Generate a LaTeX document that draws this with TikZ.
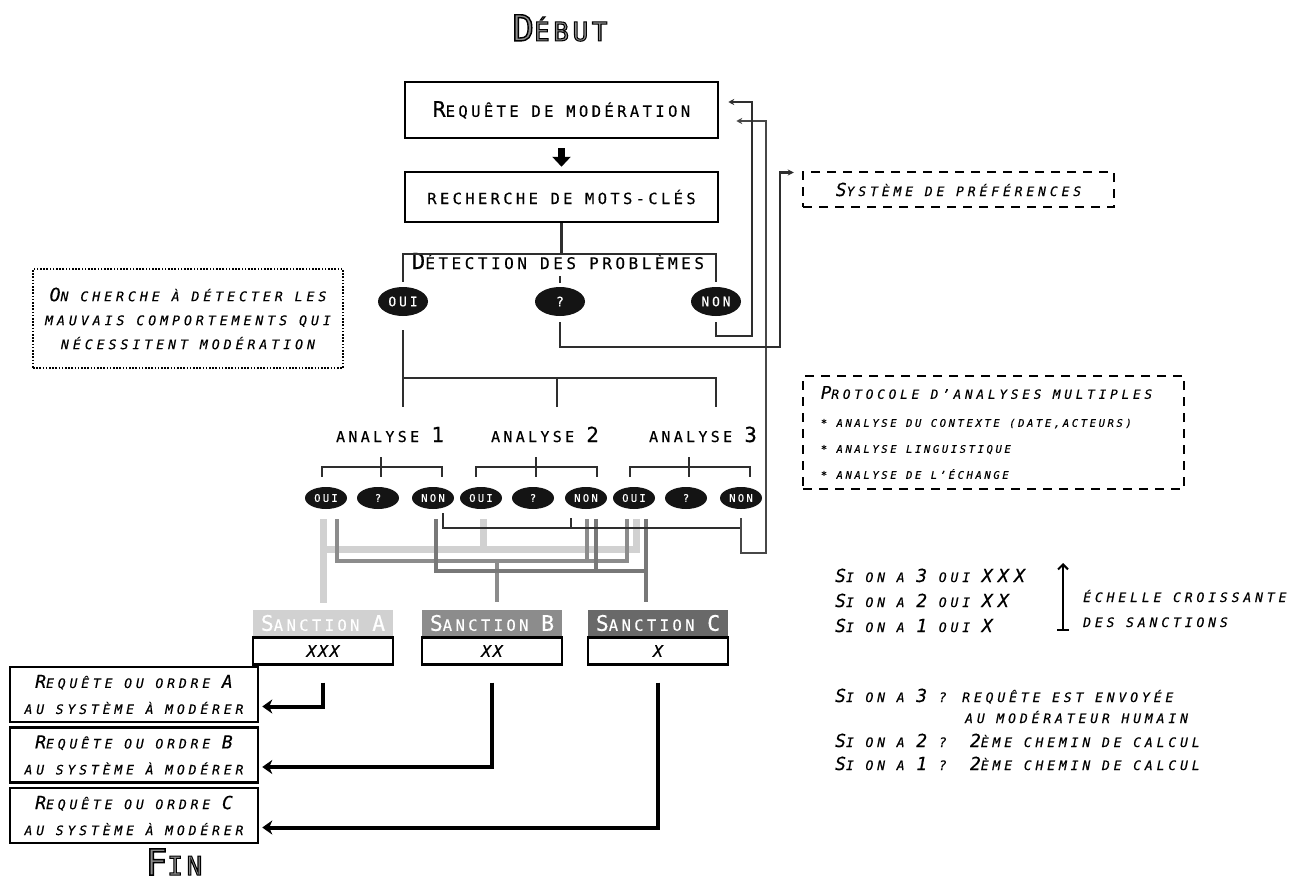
\documentclass[tikz,border=0pt]{standalone}
\usepackage{fontspec}
\setmainfont{DejaVu Sans Mono}[LetterSpace=22, FakeBold=0.4]
\newfontfamily\notef{DejaVu Sans Mono}[LetterSpace=30, FakeBold=0.4]
\newfontfamily\titref{DejaVu Sans Mono}[LetterSpace=14, FakeBold=4]
\usepackage{tikz}
\usetikzlibrary{arrows.meta, positioning, shapes.geometric}

\definecolor{gclair}{gray}{0.82}
\definecolor{gmoyen}{gray}{0.55}
\definecolor{gfonce}{gray}{0.41}
\definecolor{lienb}{gray}{0.55}
\definecolor{lienc}{gray}{0.47}

\newcommand\taille[1]{\fontsize{#1}{#1}\selectfont}
\newcommand\ini[1]{\scalebox{1.38}{#1}}
% polices des textes droits et penchés, espaces à la chasse d'un caractère
\newcommand\droit[1]{\taille{#1}\spaceskip=0.82em\relax}
\newcommand\penche[1]{\notef\itshape\taille{#1}\spaceskip=0.9em\relax}
% lettres creuses des titres : contour noir, intérieur gris
\newcommand\contournoir{\special{pdf:literal direct 0 G}}
\newcommand\creux[2]{\contournoir\ini{#1}\contournoir#2}

\begin{document}
\begin{tikzpicture}[x=1pt, y=-1pt,
    boite/.style={draw, line width=2.5pt, minimum width=313pt, inner sep=0pt},
    rep/.style={ellipse, fill=black!92, text=white, inner sep=0pt,
                minimum width=50pt, minimum height=29pt, font=\droit{13}},
    petit/.style={rep, minimum width=42pt, minimum height=22pt, font=\droit{10.5}},
    note/.style={font=\penche{13}, inner sep=0pt},
    tirets/.style={draw, line width=2.5pt, dash pattern=on 9pt off 7pt},
    titre/.style={font=\titref\taille{26}, text=black!45},
    sanc/.style={minimum width=140pt, minimum height=26pt, inner sep=0pt,
                 text=white, font=\droit{15.5}},
    niveau/.style={draw, line width=2.5pt, minimum width=140pt, minimum height=27pt,
                   inner sep=0pt, font=\penche{16}\addfontfeatures{LetterSpace=12}},
    ordre/.style={draw, line width=2.5pt, minimum width=248pt, minimum height=55pt,
                  inner sep=0pt, align=center,
                  font=\penche{13}\fontsize{13}{26}\selectfont},
    fil/.style={line width=2.5pt, black!82},
    fleche/.style={fil, -{Stealth[length=6pt,width=6pt]}},
    lienA/.style={line width=7pt, gclair},
    lienB/.style={line width=4pt, lienb},
    lienC/.style={line width=4pt, lienc},
    grosse/.style={line width=4pt, -{Stealth[length=10pt,width=14pt,inset=3pt]}}
]
\useasboundingbox (0,0) rectangle (1306,888);

\node[titre] (debut) at (560,28) {\creux{D}{ÉBUT}};

% requête et mots-clés
\node[boite, minimum height=56pt, font=\droit{15.5}] (req) at (561.5,110) {\ini{R}EQUÊTE DE MODÉRATION};
\node[boite, minimum height=50pt, font=\droit{15.4}] (mots) at (561.5,197) {RECHERCHE DE MOTS-CLÉS};
\draw[line width=7pt, -{Triangle[length=10pt,width=18pt]}, shorten <=9pt, shorten >=4pt] (req) -- (mots);

% détection
\node[font=\droit{16}, inner sep=0pt, anchor=base] (det) at (558,269) {\ini{D}ÉTECTION DES PROBLÈMES};
\node[rep] (oui) at (403,301.5) {OUI};
\node[rep] (inc) at (560,301.5) {?};
\node[rep] (non) at (716,301.5) {NON};
\draw[fil] (mots.south) -- ++(0,32);
\draw[fil] ([yshift=5pt]oui.north) -- ++(0,-28) -| ([yshift=5pt]non.north);
\draw[fil] ([yshift=4pt]inc.north) -- ++(0,-7);

\node[draw, line width=2.5pt, dash pattern=on 1.6pt off 1.6pt, minimum width=310pt,
      minimum height=99pt, align=center, note, font=\penche{13.2}\fontsize{13.2}{24}\selectfont]
      (but) at (188,318.5) {\ini{O}N CHERCHE À DÉTECTER LES\\MAUVAIS COMPORTEMENTS QUI\\NÉCESSITENT MODÉRATION};

\node[tirets, note, minimum width=311pt, minimum height=35pt] (pref) at (958.5,189.5) {\ini{S}YSTÈME DE PRÉFÉRENCES};

% vers les trois analyses
\coordinate (b1) at (403,407);
\coordinate (b2) at (557,407);
\coordinate (b3) at (716,407);
\draw[fil] ([yshift=-14pt]oui.south) -- (b1);
\draw[fil] (b1) ++(0,-29) -| (b3);
\draw[fil] (b2) -- ++(0,-29);

\node[font=\droit{15}, inner sep=0pt, anchor=base] (an1) at (390,442) {ANALYSE \ini{1}};
\node[font=\droit{15}, inner sep=0pt, anchor=base] (an2) at (545,442) {ANALYSE \ini{2}};
\node[font=\droit{15}, inner sep=0pt, anchor=base] (an3) at (703,442) {ANALYSE \ini{3}};

\node[petit] (o1) at (326,498) {OUI};
\node[petit] (q1) at (378,498) {?};
\node[petit] (n1) at (433,498) {NON};
\node[petit] (o2) at (481,498) {OUI};
\node[petit] (q2) at (533,498) {?};
\node[petit] (n2) at (586,498) {NON};
\node[petit] (o3) at (634,498) {OUI};
\node[petit] (q3) at (686,498) {?};
\node[petit] (n3) at (741,498) {NON};

\draw[fil] ([xshift=-4pt,yshift=10pt]o1.north) -- ++(0,-10) -| ([xshift=9pt,yshift=10pt]n1.north);
\draw[fil] ([xshift=-5pt,yshift=10pt]o2.north) -- ++(0,-10) -| ([xshift=11pt,yshift=10pt]n2.north);
\draw[fil] ([xshift=-4pt,yshift=10pt]o3.north) -- ++(0,-10) -| ([xshift=9pt,yshift=10pt]n3.north);
\draw[fil] ([xshift=3pt,yshift=10pt]q1.north) -- ++(0,-20);
\draw[fil] ([xshift=3pt,yshift=10pt]q2.north) -- ++(0,-20);
\draw[fil] ([xshift=3pt,yshift=10pt]q3.north) -- ++(0,-20);

% sanctions
\node[sanc, fill=gclair] (sA) at (323,623) {\ini{S}ANCTION \ini{A}};
\node[niveau, below=0pt of sA] (xA) {XXX};
\node[sanc, fill=gmoyen] (sB) at (492,623) {\ini{S}ANCTION \ini{B}};
\node[niveau, below=0pt of sB] (xB) {XX};
\node[sanc, fill=gfonce] (sC) at (658,623) {\ini{S}ANCTION \ini{C}};
\node[niveau, below=0pt of sC] (xC) {X};

% trois oui
\draw[lienA] ([xshift=-3pt,yshift=-10pt]o1.south) -- ([yshift=7pt]sA.north);
\draw[lienA] ([xshift=2pt,yshift=-10pt]o3.south) -- ++(0,30) -| ([yshift=7pt]sA.north);
\draw[lienA] ([xshift=2pt,yshift=-10pt]o2.south) -- ++(0,30);
% deux oui
\draw[lienB] ([xshift=11pt,yshift=-10pt]o1.south) -- ++(0,42) -| ([xshift=-7pt,yshift=-10pt]o3.south);
\draw[lienB] ([xshift=1pt,yshift=-10pt]n2.south) -- ++(0,42);
\draw[lienB] ([xshift=5pt,yshift=8pt]sB.north) -- ++(0,-40);
% un oui
\draw[lienC] ([xshift=3pt,yshift=-10pt]n1.south) -- ++(0,52) -| ([xshift=-12pt,yshift=8pt]sC.north);
\draw[lienC] ([xshift=10pt,yshift=-10pt]n2.south) -- ++(0,52);
\draw[lienC] ([xshift=12pt,yshift=-10pt]o3.south) -- ([xshift=-12pt,yshift=8pt]sC.north);

% trois non : retour à la requête
\draw[fil] ([xshift=10pt,yshift=-4pt]n1.south) -- ++(0,15) -| ([yshift=-9pt]n3.south);
\draw[fil] ([xshift=-15pt,yshift=-9pt]n2.south) -- ++(0,10);
\draw[fleche, black!72] ([yshift=-9pt]n3.south) -- ++(0,35) -- ++(25,0) |- ([xshift=17pt,yshift=-11pt]req.east);
\draw[fleche] ([yshift=-6pt]non.south) -- ++(0,14) -- ++(36,0) |- ([xshift=9pt,yshift=8pt]req.east);
\draw[fleche] ([yshift=-6pt]inc.south) -- ++(0,25) -- ++(220,0) |- ([xshift=-8pt,yshift=17pt]pref.west);

\node[tirets, note, align=left, minimum width=381pt, minimum height=113pt,
      font=\penche{10.5}\addfontfeatures{LetterSpace=25}\fontsize{10.5}{26}\selectfont]
      (proto) at (993.5,432.5)
      {{\penche{12.7}\ini{P}ROTOCOLE D’ANALYSES MULTIPLES}\hspace*{14pt}\\[2pt]
       * ANALYSE DU CONTEXTE (DATE,ACTEURS)\\
       * ANALYSE LINGUISTIQUE\\
       * ANALYSE DE L’ÉCHANGE};

% ordres envoyés
\node[ordre] (rA) at (134,694.5) {\ini{R}EQUÊTE OU ORDRE \ini{A}\\AU SYSTÈME À MODÉRER};
\node[ordre, below=3pt of rA] (rB) {\ini{R}EQUÊTE OU ORDRE \ini{B}\\AU SYSTÈME À MODÉRER};
\node[ordre, below=3pt of rB] (rC) {\ini{R}EQUÊTE OU ORDRE \ini{C}\\AU SYSTÈME À MODÉRER};
\draw[grosse] ([yshift=-17pt]xA.south) |- ([xshift=3pt,yshift=-12pt]rA.east);
\draw[grosse] ([yshift=-17pt]xB.south) |- ([xshift=3pt,yshift=-12pt]rB.east);
\draw[grosse] ([yshift=-17pt]xC.south) |- ([xshift=3pt,yshift=-12pt]rC.east);

\node[titre] (fin) at (174,862) {\creux{F}{IN}};

% légende à droite
\node[note, anchor=base west] (si3) at (835,582) {\ini{S}I ON A \ini{3} OUI \ini{XXX}};
\node[note, anchor=base west] (si2) at (835,607) {\ini{S}I ON A \ini{2} OUI \ini{XX}};
\node[note, anchor=base west] (si1) at (835,632) {\ini{S}I ON A \ini{1} OUI \ini{X}};
\coordinate (ech0) at (1063,631);
\coordinate (ech1) at (1063,563);
\draw[line width=2pt, {Bar[width=12pt]}-{Straight Barb[length=5pt,width=10pt]}] (ech0) -- (ech1);
\node[note, anchor=base west] (ech) at (1083,602) {ÉCHELLE CROISSANTE};
\node[note, anchor=base west] (ech2) at (1083,627) {DES SANCTIONS};

\node[note, anchor=base west] (p3) at (835,702) {\ini{S}I ON A \ini{3} ? REQUÊTE EST ENVOYÉE};
\node[note, anchor=base west] (hum) at (965,723) {AU MODÉRATEUR HUMAIN};
\node[note, anchor=base west] (p2) at (835,747) {\ini{S}I ON A \ini{2} ?~~\ini{2}ÈME CHEMIN DE CALCUL};
\node[note, anchor=base west] (p1) at (835,770) {\ini{S}I ON A \ini{1} ?~~\ini{2}ÈME CHEMIN DE CALCUL};
\end{tikzpicture}
\end{document}
